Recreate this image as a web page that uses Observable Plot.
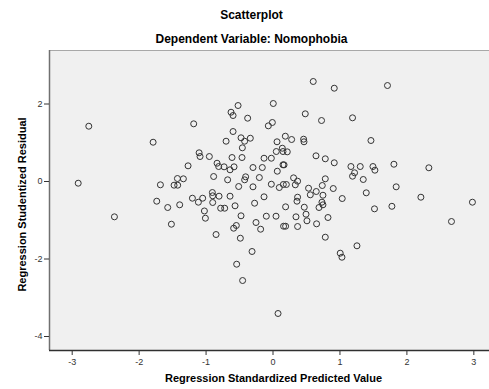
<!DOCTYPE html>
<html>
<head>
<meta charset="utf-8">
<script src="https://cdn.jsdelivr.net/npm/d3@7"></script>
<script src="https://cdn.jsdelivr.net/npm/@observablehq/plot@0.6"></script>
<style>
  html, body { margin: 0; padding: 0; background: #fff; }
  svg { display: block; }
</style>
</head>
<body>
<div id="chart"></div>
<script>
const title = "Scatterplot";
const subtitle = "Dependent Variable: Nomophobia";
const xLabel = "Regression Standardized Predicted Value";
const yLabel = "Regression Studentized Residual";
const xTicks = [-3, -2, -1, 0, 1, 2, 3];
const yTicks = [-4, -2, 0, 2];

const predicted = [
  -2.752, -1.791, -1.269, -2.910, -1.682, -1.428, -1.339, -1.478, -1.424, -1.737,
  -1.573, -1.394, -2.369, -1.518, 0.601, 0.004, -0.522, -0.627, -0.597, 0.482,
  0.725, -0.379, -1.185, -0.010, -0.070, -0.597, -0.701, -0.478, -0.424, -0.339,
  -0.458, 0.060, 0.184, 0.278, 0.457, 0.463, 0.139, 0.049, 0.149, 0.213,
  -1.104, -1.090, -0.951, -0.612, -0.463, -0.134, -0.025, 0.642, 0.781, -0.836,
  -0.812, -0.731, -0.642, -0.582, -0.299, -0.160, 0.149, 0.165, 0.064, -0.887,
  -0.678, -0.409, -0.424, -0.204, -0.513, -0.299, -0.025, 0.094, 0.154, 0.199,
  0.307, 0.367, 0.333, 0.531, 0.781, 0.736, 0.557, 0.646, 0.746, -0.906,
  -0.901, -0.806, -0.642, -1.204, -1.051, -1.115, -0.901, -0.134, 0.367, 0.358,
  -0.275, -0.567, -0.782, -0.722, -1.025, 0.188, 0.467, 0.687, 0.731, 0.746,
  -1.010, -0.478, -0.548, -0.588, -0.851, -0.488, -0.254, -0.185, -0.100, 0.045,
  0.158, 0.188, 0.343, 0.367, 0.493, 0.507, 0.651, 0.821, 0.781, -0.313,
  -0.543, -0.454, 0.075, 0.915, 1.710, 1.188, 1.463, 0.915, 1.164, 1.303,
  1.493, 1.522, 1.806, 2.328, 1.218, 1.188, 1.348, 0.900, 1.840, 1.393,
  1.034, 2.209, 2.979, 1.516, 1.776, 2.666, 1.254, 1.004, 1.030
];
const residual = [
  1.427, 1.014, 0.405, -0.044, -0.085, 0.077, 0.070, -0.095, -0.095, -0.508,
  -0.671, -0.601, -0.911, -1.102, 2.581, 2.013, 1.961, 1.788, 1.703, 1.747,
  1.574, 1.634, 1.489, 1.523, 1.437, 1.290, 1.040, 1.128, 1.040, 1.117,
  0.870, 1.025, 1.169, 1.084, 1.092, 1.025, 0.859, 0.774, 0.774, 0.766,
  0.741, 0.645, 0.645, 0.619, 0.619, 0.601, 0.601, 0.663, 0.586, 0.472,
  0.387, 0.379, 0.302, 0.379, 0.361, 0.361, 0.431, 0.430, 0.266, 0.129,
  0.044, 0.121, 0.044, 0.103, -0.129, -0.137, -0.070, -0.155, -0.077, -0.077,
  0.095, 0.008, -0.085, -0.173, 0.070, -0.103, -0.343, -0.258, -0.354, -0.284,
  -0.369, -0.379, -0.379, -0.431, -0.431, -0.534, -0.542, -0.395, -0.405, -0.508,
  -0.560, -0.627, -0.689, -0.689, -0.760, -0.653, -0.663, -0.671, -0.534, -0.601,
  -0.947, -0.885, -1.135, -1.205, -1.368, -1.463, -1.058, -1.231, -0.895, -0.895,
  -1.154, -1.154, -0.911, -1.161, -0.844, -1.014, -1.092, -0.929, -1.437, -1.806,
  -2.134, -2.555, -3.406, 2.408, 2.477, 1.644, 1.058, 0.483, 0.387, 0.387,
  0.387, 0.292, 0.446, 0.354, 0.225, 0.137, 0.052, -0.181, -0.137, -0.292,
  -0.439, -0.405, -0.534, -0.705, -0.640, -1.032, -1.659, -1.850, -1.954
];

const points = predicted.map((x, i) => ({x, y: residual[i]}));
const xDomain = [-3.339, 3.234];
const yDomain = [-4.361, 3.381];

const font = "'Liberation Sans', Arial, sans-serif";

const chart = Plot.plot({
  width: 489,
  height: 389,
  marginLeft: 49,
  marginRight: 0,
  marginTop: 50,
  marginBottom: 39,
  style: {fontFamily: font, background: "#fff", overflow: "visible"},
  x: {domain: xDomain, label: null},
  y: {domain: yDomain, label: null},
  marks: [
    Plot.frame({fill: "#f0f0f0", stroke: "#a8a8a8"}),
    Plot.ruleX([xDomain[0]], {stroke: "#707070", strokeWidth: 1.5}),
    Plot.ruleY([yDomain[0]], {stroke: "#303030", strokeWidth: 1.5}),
    Plot.axisX({ticks: xTicks, tickSize: 5, tickPadding: 3, fontSize: 9, fill: "#333", stroke: "#333", label: null, tickFormat: d => String(d)}),
    Plot.axisY({ticks: yTicks, tickSize: 5, tickPadding: 2, fontSize: 9, fill: "#333", stroke: "#333", label: null, tickFormat: d => String(d)}),
    Plot.dot(points, {x: "x", y: "y", r: 3, stroke: "#333", strokeWidth: 1, fill: "none"}),
    Plot.text([title], {frameAnchor: "top", dx: -18, dy: -40, fontSize: 12, fontWeight: "bold", fill: "#000"}),
    Plot.text([subtitle], {frameAnchor: "top", dx: -18, dy: -16, fontSize: 12, fontWeight: "bold", fill: "#000"}),
    Plot.text([xLabel], {frameAnchor: "bottom", dx: 4, dy: 31, fontSize: 11, fontWeight: "bold", fill: "#000"}),
    Plot.text([yLabel], {frameAnchor: "left", dx: -27, dy: 4, rotate: -90, textAnchor: "middle", lineAnchor: "middle", fontSize: 11, fontWeight: "bold", fill: "#000"})
  ]
});
document.getElementById("chart").appendChild(chart);
</script>
</body>
</html>
